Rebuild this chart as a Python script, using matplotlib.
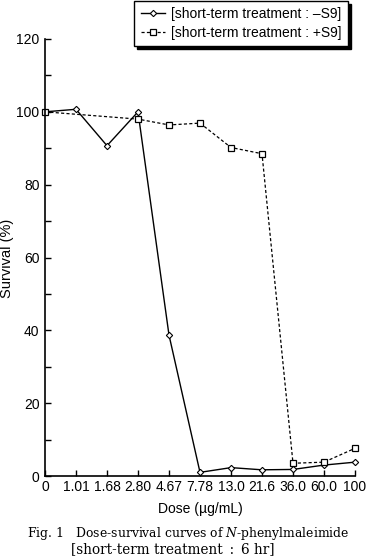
import numpy as np
import matplotlib
matplotlib.use('Agg')
import matplotlib.pyplot as plt
from matplotlib.ticker import MultipleLocator

plt.rcParams['font.family'] = 'Liberation Sans'
plt.rcParams['mathtext.fontset'] = 'dejavuserif'

doses = ['0', '1.01', '1.68', '2.80', '4.67', '7.78', '13.0', '21.6', '36.0', '60.0', '100']

# -S9: every dose has a point
minus_idx = [0, 1, 2, 3, 4, 5, 6, 7, 8, 9, 10]
minus_s9 = [100, 100.7, 90.7, 100, 38.7, 1.0, 2.3, 1.7, 1.8, 3.0, 3.8]

# +S9: no points at 1.01 and 1.68
plus_idx = [0, 3, 4, 5, 6, 7, 8, 9, 10]
plus_s9 = [100, 98.0, 96.4, 96.9, 90.2, 88.5, 3.5, 3.8, 7.6]

label_minus = '[short-term treatment : \u2013S9]'
label_plus = '[short-term treatment : +S9]'

fs = 10

fig = plt.figure(figsize=(3.67, 5.57), dpi=100)
ax = fig.add_axes([45 / 367, 1 - 476 / 557, 310 / 367, 437 / 557])

ax.plot(minus_idx, minus_s9, '-', color='black', lw=1.0, marker='D', ms=3.2,
        mfc='white', mec='black', mew=0.8, label=label_minus, clip_on=False)
ax.plot(plus_idx, plus_s9, color='black', lw=0.9, ls=(0, (2.5, 1.8)), marker='s', ms=4.2,
        mfc='white', mec='black', mew=0.9, label=label_plus, clip_on=False)

ax.set_xlim(0, 10)
ax.set_ylim(0, 120)
ax.set_xticks(range(len(doses)))
ax.set_xticklabels(doses)
ax.yaxis.set_major_locator(MultipleLocator(20))
ax.yaxis.set_minor_locator(MultipleLocator(10))
ax.tick_params(axis='both', which='both', direction='in', labelsize=fs, width=1.0)
ax.tick_params(axis='both', which='major', length=4)
ax.tick_params(axis='y', which='minor', length=4)
ax.tick_params(axis='x', pad=3)
ax.tick_params(axis='y', pad=4)
for s in ['top', 'right']:
    ax.spines[s].set_visible(False)
for s in ['left', 'bottom']:
    ax.spines[s].set_linewidth(1.2)

ax.set_xlabel('Dose (\u00b5g/mL)', fontsize=fs, labelpad=6)
fig.text(7 / 367, 1 - 258 / 557, 'Survival (%)', fontsize=10.5, rotation=90,
         ha='center', va='center')

leg = fig.legend(loc='upper right', bbox_to_anchor=(348 / 367, 1 - 1 / 557), fontsize=fs,
                 fancybox=False, frameon=True, edgecolor='black', framealpha=1,
                 shadow={'color': 'black', 'alpha': 1}, borderpad=0.45, labelspacing=0.35,
                 handlelength=1.75, handletextpad=0.45, borderaxespad=0)
leg.get_frame().set_linewidth(1.0)

fig.text(27 / 367, 1 - 533 / 557, 'Fig. 1\u2003Dose-survival curves of $N$-phenylmaleimide',
         family='DejaVu Serif', fontsize=8.9, va='center', ha='left')
fig.text(71 / 367, 1 - 549 / 557, '[short-term treatment\u2002:\u20026 hr]',
         family='DejaVu Serif', fontsize=9.8, va='center', ha='left')

fig.savefig('out.png', dpi=100)
